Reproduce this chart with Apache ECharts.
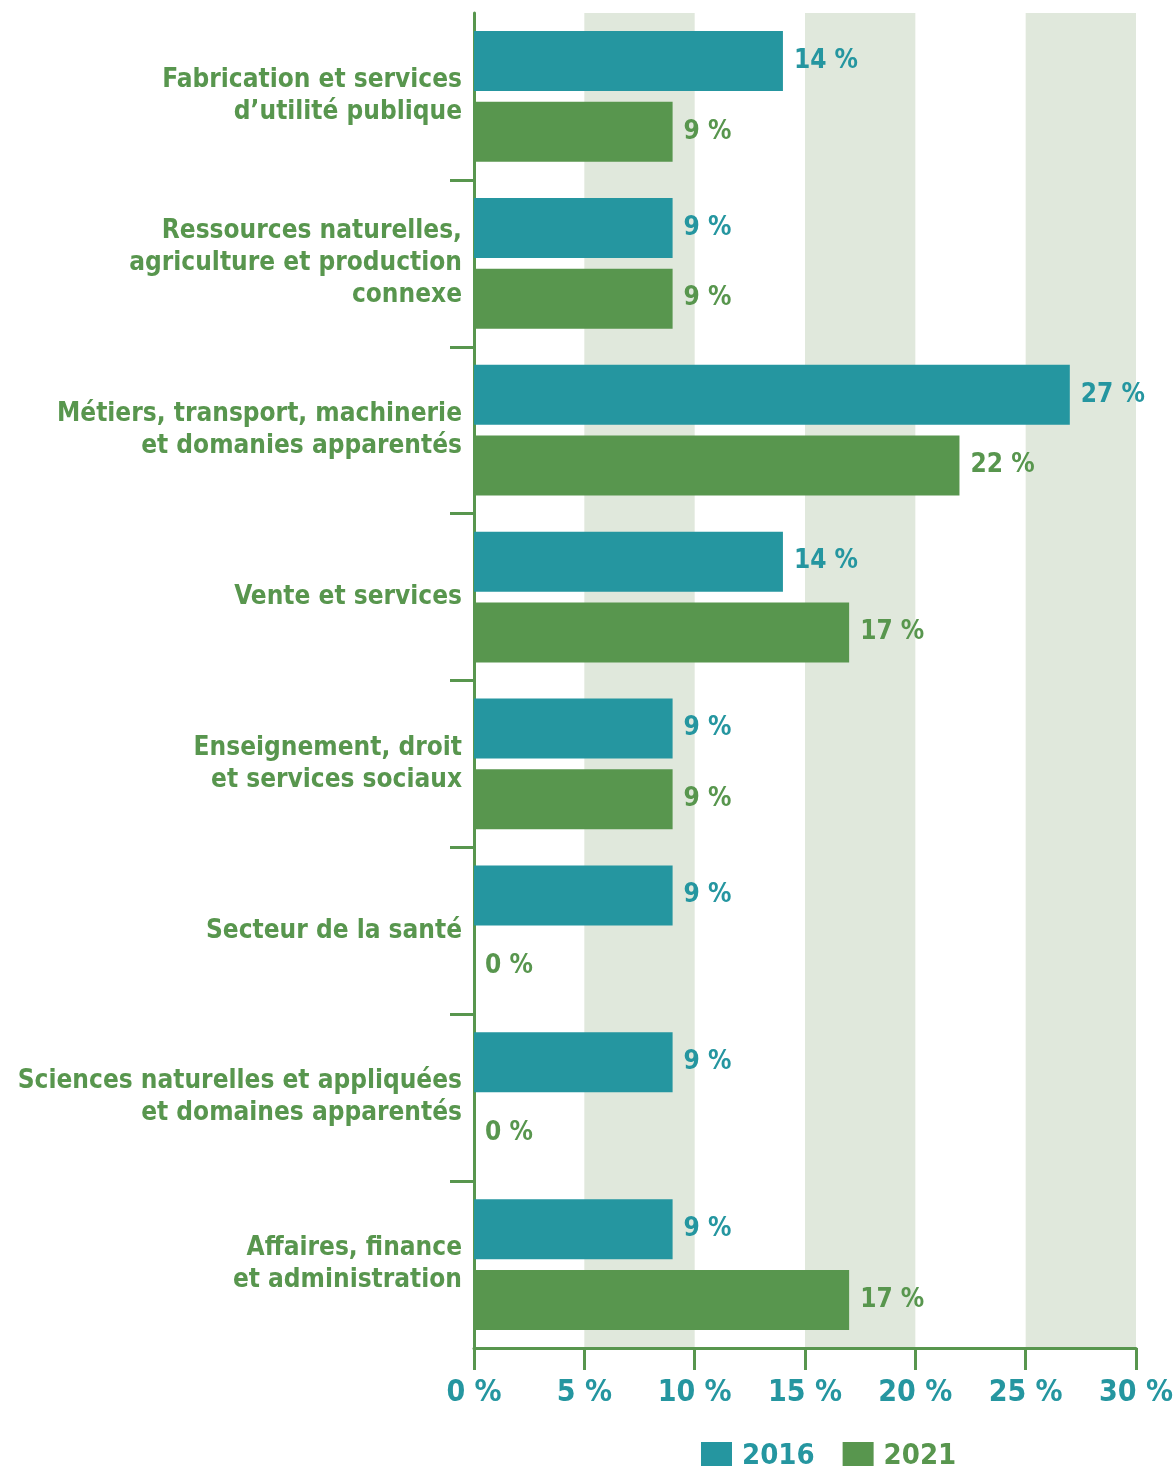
<!DOCTYPE html>
<html><head><meta charset="utf-8">
<script src="https://cdn.jsdelivr.net/npm/echarts@6/dist/echarts.min.js"></script>
<style>html,body{margin:0;padding:0;background:#fff}#c{width:1176px;height:1466px}</style>
</head><body><div id="c"></div>
<script>
const categories = [
  "Fabrication et services\nd’utilité publique",
  "Ressources naturelles,\nagriculture et production\nconnexe",
  "Métiers, transport, machinerie\net domanies apparentés",
  "Vente et services",
  "Enseignement, droit\net services sociaux",
  "Secteur de la santé",
  "Sciences naturelles et appliquées\net domaines apparentés",
  "Affaires, finance\net administration"
];
const values2016 = [14, 9, 27, 14, 9, 9, 9, 9];
const values2021 = [9, 9, 22, 17, 9, 0, 0, 17];
const xTicks = [0, 5, 10, 15, 20, 25, 30];
const categoryBoundaries = [1, 2, 3, 4, 5, 6, 7];

const TEAL = '#2596a0', GREEN = '#58964e', BAND = '#e0e8dc';
const FONT = '"DejaVu Sans Condensed", "Liberation Sans Narrow", sans-serif';

const chart = echarts.init(document.getElementById('c'));
chart.setOption({
  animation: false,
  textStyle: { fontFamily: FONT },
  grid: { left: 474, right: 39, top: 13, bottom: 118, containLabel: false },
  legend: {
    left: 696, top: 1437, itemWidth: 31, itemHeight: 29, itemGap: 28,
    icon: 'rect',
    textStyle: { fontSize: 29, fontWeight: 'bold', fontFamily: FONT, padding: [0, 0, 0, 5] },
    data: [
      { name: '2016', textStyle: { color: TEAL } },
      { name: '2021', textStyle: { color: GREEN } }
    ]
  },
  xAxis: {
    type: 'value', min: 0, max: 30, interval: 5, position: 'bottom',
    axisLine: { show: true, onZero: false, lineStyle: { color: GREEN, width: 3 } },
    axisTick: { show: true, length: 22, lineStyle: { color: GREEN, width: 3 } },
    splitLine: { show: false },
    splitArea: { show: true, areaStyle: { color: ['rgba(255,255,255,0)', BAND] } },
    axisLabel: {
      margin: 30, fontSize: 30, fontWeight: 'bold', color: TEAL, fontFamily: FONT,
      formatter: v => xTicks.includes(v) ? v + ' %' : ''
    }
  },
  yAxis: [
    {
      type: 'category', inverse: true, data: categories, position: 'left',
      axisLine: { show: true, onZero: false, lineStyle: { color: GREEN, width: 3 } },
      axisTick: { show: false },
      axisLabel: {
        margin: 12, fontSize: 26, fontWeight: 'bold', color: GREEN, lineHeight: 32,
        align: 'right', fontFamily: FONT
      }
    },
    {
      type: 'value', inverse: true, min: 0, max: categories.length, position: 'left',
      axisLine: { show: false, onZero: false },
      axisTick: { show: true, length: 24, lineStyle: { color: GREEN, width: 3 },
        customValues: categoryBoundaries },
      axisLabel: { show: false },
      splitLine: { show: false },
      splitArea: { show: false }
    }
  ],
  series: [
    {
      name: '2016', type: 'bar', data: values2016, barWidth: 60, barGap: '18%',
      itemStyle: { color: TEAL },
      label: { show: true, position: 'right', distance: 11, formatter: '{c} %',
        fontSize: 26, fontWeight: 'bold', color: TEAL, fontFamily: FONT }
    },
    {
      name: '2021', type: 'bar', data: values2021, barWidth: 60,
      itemStyle: { color: GREEN },
      label: { show: true, position: 'right', distance: 11, formatter: '{c} %',
        fontSize: 26, fontWeight: 'bold', color: GREEN, fontFamily: FONT }
    }
  ]
});
</script></body></html>
